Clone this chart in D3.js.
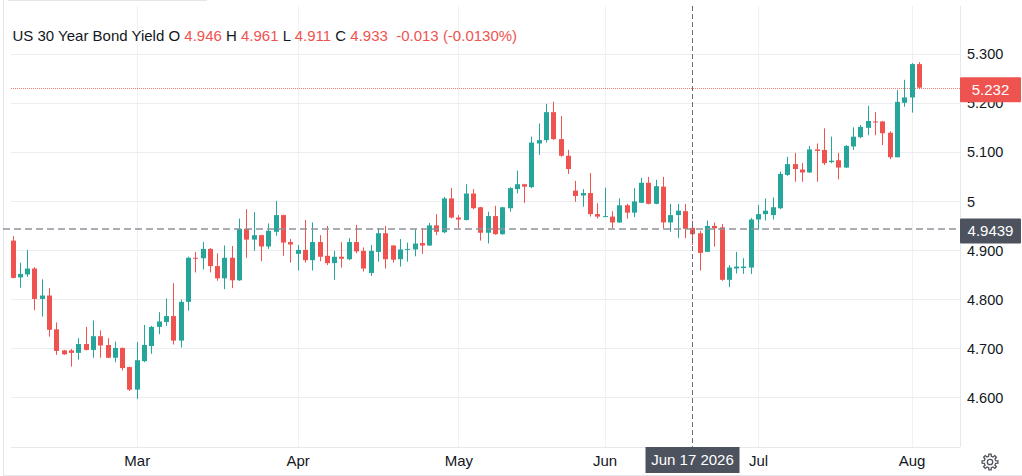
<!DOCTYPE html>
<html>
<head>
<meta charset="utf-8">
<script src="https://cdn.jsdelivr.net/npm/d3@7"></script>
<style>
  body { margin: 0; background: #fff; }
  svg { display: block; font-family: Helvetica, Arial, "Liberation Sans", sans-serif; }
</style>
</head>
<body>
<script>
// daily candles, Feb -> Aug 2026 (one entry per trading day)
var opens = [4.920,4.845,4.851,4.863,4.801,4.808,4.739,4.696,4.696,4.691,4.709,4.697,4.725,4.707,4.681,4.701,4.662,4.616,4.674,4.705,
  4.744,4.754,4.766,4.716,4.795,4.885,4.884,4.903,4.868,4.843,4.885,4.839,4.944,4.922,4.931,4.908,4.938,4.972,4.917,4.893,
  4.901,4.880,4.917,4.889,4.874,4.887,4.882,4.917,4.899,4.854,4.897,4.935,4.910,4.882,4.901,4.902,4.915,4.910,4.951,4.937,
  5.006,4.967,4.962,5.016,4.988,4.936,4.970,4.933,4.986,5.025,5.035,5.029,5.118,5.125,5.182,5.127,5.093,5.022,5.012,5.017,
  4.974,4.969,4.969,4.957,4.992,4.977,4.997,5.038,4.995,5.030,4.957,4.972,4.980,4.946,4.935,4.897,4.950,4.947,4.840,4.863,
  4.864,4.865,4.963,4.974,4.972,4.986,5.054,5.076,5.065,5.059,5.106,5.105,5.080,5.084,5.069,5.112,5.131,5.150,5.163,5.163,
  5.140,5.090,5.201,5.212,5.280];
var highs = [4.929,4.875,4.901,4.866,4.841,4.823,4.753,4.697,4.699,4.721,4.744,4.757,4.737,4.721,4.714,4.702,4.663,4.713,4.748,4.746,
  4.774,4.802,4.833,4.800,4.887,4.897,4.917,4.905,4.894,4.910,4.909,4.965,4.984,4.978,4.932,4.955,5.001,4.973,4.923,4.911,
  4.962,4.957,4.931,4.950,4.899,4.917,4.925,4.952,4.906,4.911,4.945,4.950,4.911,4.923,4.916,4.943,4.945,4.956,4.974,5.009,
  5.027,4.972,5.035,5.025,4.989,4.979,4.991,4.989,5.029,5.063,5.036,5.132,5.159,5.199,5.203,5.174,5.105,5.042,5.025,5.058,
  4.996,5.028,4.980,5.006,4.995,5.027,5.048,5.050,5.044,5.050,4.995,4.995,4.995,4.961,4.940,4.961,4.957,4.954,4.870,4.897,
  4.884,4.966,4.993,5.006,5.008,5.061,5.091,5.099,5.078,5.113,5.118,5.149,5.132,5.099,5.115,5.151,5.156,5.195,5.182,5.164,
  5.143,5.227,5.248,5.282,5.284];
var lows = [4.843,4.824,4.846,4.778,4.765,4.724,4.687,4.687,4.663,4.677,4.696,4.681,4.681,4.680,4.672,4.655,4.613,4.597,4.672,4.689,
  4.729,4.746,4.708,4.702,4.777,4.855,4.861,4.855,4.838,4.821,4.823,4.838,4.885,4.899,4.878,4.903,4.930,4.889,4.875,4.859,
  4.875,4.859,4.878,4.870,4.840,4.865,4.880,4.894,4.857,4.848,4.877,4.863,4.875,4.867,4.877,4.888,4.893,4.909,4.931,4.935,
  4.965,4.946,4.961,4.984,4.920,4.914,4.932,4.932,4.979,5.016,4.997,5.027,5.095,5.120,5.125,5.091,5.056,4.999,4.989,4.969,
  4.965,4.968,4.945,4.956,4.965,4.968,4.997,4.994,4.994,4.945,4.938,4.925,4.925,4.911,4.859,4.897,4.908,4.838,4.825,4.853,
  4.852,4.852,4.942,4.961,4.963,4.984,5.052,5.040,5.040,5.058,5.040,5.074,5.078,5.045,5.068,5.105,5.129,5.135,5.135,5.115,
  5.086,5.090,5.193,5.181,5.229];
var closes = [4.844,4.852,4.863,4.801,4.808,4.738,4.695,4.688,4.691,4.709,4.697,4.725,4.706,4.681,4.701,4.660,4.616,4.676,4.707,4.744,
  4.755,4.766,4.716,4.795,4.885,4.884,4.903,4.868,4.843,4.885,4.839,4.944,4.922,4.931,4.908,4.940,4.972,4.916,4.912,4.901,
  4.880,4.917,4.887,4.874,4.887,4.883,4.917,4.898,4.863,4.899,4.935,4.882,4.881,4.902,4.903,4.914,4.910,4.951,4.938,5.006,
  4.967,4.963,5.016,4.986,4.936,4.970,4.933,4.988,5.027,5.035,5.030,5.120,5.125,5.182,5.127,5.093,5.066,5.011,5.017,4.974,
  4.969,4.970,4.957,4.992,4.977,5.000,5.038,4.995,5.031,4.957,4.972,4.981,4.944,4.933,4.895,4.950,4.945,4.840,4.865,4.867,
  4.867,4.963,4.974,4.981,4.988,5.056,5.076,5.066,5.059,5.106,5.103,5.078,5.083,5.069,5.113,5.132,5.152,5.164,5.161,5.139,
  5.090,5.203,5.212,5.280,5.232];

// month labels and the bar index where each month starts
var months = ["Mar", "Apr", "May", "Jun", "Jul", "Aug"];
var monthIdx = [17, 39, 61, 81, 102, 123];

// price axis
var yTicks = [4.6, 4.7, 4.8, 4.9, 5.0, 5.1, 5.2, 5.3];
var yLabels = ["4.600", "4.700", "4.800", "4.900", "5", "5.100", "5.200", "5.300"];

// crosshair + last price
var lastPrice = 5.232;
var crossIdx = 93;
var crossPrice = 4.9439;
var crossDate = "Jun 17 2026";

var width = 1022;
var height = 476;
var plotLeft = 11;
var plotRight = 960;
var plotTop = 6;
var plotBottom = 447;

var green = "#26a69a";
var red = "#ef5350";
var dark = "#131722";
var font = "Helvetica, Arial, 'Liberation Sans', sans-serif";

var svg = d3.select("body").append("svg")
  .attr("width", width)
  .attr("height", height);

// scales
var x = d3.scaleLinear().domain([0, opens.length - 1]).range([12.5, 918.9]);
var y = d3.scaleLinear().domain([4.5, 5.3]).range([446.5, 54.3]);

// outer frame
svg.append("line").attr("x1", 3.5).attr("x2", 3.5).attr("y1", 0).attr("y2", 475)
  .attr("stroke", "#e3e5ea");
svg.append("line").attr("x1", 3).attr("x2", width).attr("y1", 475.5).attr("y2", 475.5)
  .attr("stroke", "#e3e5ea");
svg.append("line").attr("x1", 8).attr("x2", 207).attr("y1", 0.5).attr("y2", 0.5)
  .attr("stroke", "#e3e5ea");

// vertical grid at month starts
svg.selectAll(".vgrid").data(monthIdx).enter().append("line")
  .attr("class", "vgrid")
  .attr("x1", function(d) { return Math.round(x(d)) + 0.5; })
  .attr("x2", function(d) { return Math.round(x(d)) + 0.5; })
  .attr("y1", plotTop).attr("y2", plotBottom)
  .attr("stroke", "#eef1f6");

// horizontal grid (incl. bottom 4.5 line)
svg.selectAll(".hgrid").data([4.5].concat(yTicks)).enter().append("line")
  .attr("class", "hgrid")
  .attr("x1", plotLeft).attr("x2", plotRight)
  .attr("y1", function(d) { return Math.round(y(d)) + 0.5; })
  .attr("y2", function(d) { return Math.round(y(d)) + 0.5; })
  .attr("stroke", function(d) { return d === 4.5 ? "#e6e8ec" : "#ecedf0"; });

// right axis border
svg.append("line").attr("x1", plotRight + 0.5).attr("x2", plotRight + 0.5)
  .attr("y1", plotTop).attr("y2", plotBottom)
  .attr("stroke", "#e6e8ec");

// y axis labels
var yAxis = d3.axisRight(y)
  .tickValues(yTicks)
  .tickFormat(function(d, i) { return yLabels[i]; })
  .tickSize(0)
  .tickPadding(7);
var gy = svg.append("g")
  .attr("transform", "translate(" + plotRight + ",0)")
  .call(yAxis);
gy.select(".domain").remove();
gy.selectAll("text").style("font-size", "14.5px").attr("fill", dark)
  .style("font-family", font);

// x axis labels
var xAxis = d3.axisBottom(x)
  .tickValues(monthIdx)
  .tickFormat(function(d, i) { return months[i]; })
  .tickSize(0)
  .tickPadding(8);
var gx = svg.append("g")
  .attr("transform", "translate(0," + plotBottom + ")")
  .call(xAxis);
gx.select(".domain").remove();
gx.selectAll("text").style("font-size", "15px").attr("fill", dark)
  .style("font-family", font);

// last price dotted line
svg.append("line")
  .attr("x1", plotLeft).attr("x2", plotRight)
  .attr("y1", Math.round(y(lastPrice)) + 0.5).attr("y2", Math.round(y(lastPrice)) + 0.5)
  .attr("stroke", red).attr("stroke-opacity", 0.75)
  .attr("shape-rendering", "crispEdges")
  .attr("stroke-dasharray", "1,1");

// candles
var candles = svg.append("g").selectAll("g").data(opens).enter().append("g");
candles.append("line")
  .attr("x1", function(d, i) { return Math.round(x(i)) + 0.5; })
  .attr("x2", function(d, i) { return Math.round(x(i)) + 0.5; })
  .attr("y1", function(d, i) { return y(highs[i]); })
  .attr("y2", function(d, i) { return y(lows[i]); })
  .attr("stroke", function(d, i) { return closes[i] >= opens[i] ? green : red; })
  .attr("stroke-width", 1);
candles.append("rect")
  .attr("x", function(d, i) { return Math.round(x(i)) - 2; })
  .attr("width", 5)
  .attr("y", function(d, i) { return y(Math.max(opens[i], closes[i])); })
  .attr("height", function(d, i) {
    return Math.max(1, Math.abs(y(opens[i]) - y(closes[i])));
  })
  .attr("fill", function(d, i) { return closes[i] >= opens[i] ? green : red; });

// crosshair
var cx = Math.round(x(crossIdx)) + 0.5;
svg.append("line")
  .attr("x1", cx).attr("x2", cx).attr("y1", plotTop).attr("y2", plotBottom)
  .attr("stroke", "#6a6d78").attr("stroke-dasharray", "5,3");
svg.append("line")
  .attr("x1", plotLeft - 8).attr("x2", plotRight)
  .attr("y1", y(crossPrice)).attr("y2", y(crossPrice))
  .attr("stroke", "#8f9299").attr("stroke-width", 1.5).attr("stroke-dasharray", "7,4");

// price badges on the right axis
function badge(val, txt, fill) {
  var cy = y(val) + 2;
  svg.append("rect")
    .attr("x", plotRight).attr("y", cy - 12.5)
    .attr("width", 61).attr("height", 25)
    .attr("rx", 1)
    .attr("fill", fill);
  svg.append("text")
    .attr("x", plotRight + 30.5).attr("y", cy)
    .attr("dy", "0.35em")
    .attr("text-anchor", "middle")
    .attr("fill", "#fff")
    .style("font-size", "15px")
    .text(txt);
}
badge(lastPrice, lastPrice.toFixed(3), red);
badge(crossPrice, crossPrice.toFixed(4), "#4c525e");

// date badge at bottom
svg.append("rect")
  .attr("x", cx - 47).attr("y", plotBottom)
  .attr("width", 94).attr("height", 26)
  .attr("fill", "#4c525e");
svg.append("text")
  .attr("x", cx).attr("y", plotBottom + 13)
  .attr("dy", "0.35em")
  .attr("text-anchor", "middle")
  .attr("fill", "#fff")
  .style("font-size", "15px")
  .text(crossDate);

// legend (values of the hovered candle)
var legendParts = [
  ["US 30 Year Bond Yield O ", dark],
  [opens[crossIdx].toFixed(3), red],
  [" H ", dark],
  [highs[crossIdx].toFixed(3), red],
  [" L ", dark],
  [lows[crossIdx].toFixed(3), red],
  [" C ", dark],
  [closes[crossIdx].toFixed(3), red],
  ["  -0.013 (-0.0130%)", red]
];
var legend = svg.append("text")
  .attr("x", 12.5).attr("y", 36)
  .attr("dy", "0.35em")
  .style("font-size", "15px")
  .style("white-space", "pre");
legend.selectAll("tspan").data(legendParts).enter().append("tspan")
  .attr("fill", function(d) { return d[1]; })
  .text(function(d) { return d[0]; });

// settings gear, bottom right
var teeth = 8;
var gearPts = [];
for (var k = 0; k < teeth; k++) {
  var a0 = k / teeth * 2 * Math.PI;
  var step = 2 * Math.PI / teeth;
  gearPts.push([a0 - step * 0.18, 8]);
  gearPts.push([a0 + step * 0.18, 8]);
  gearPts.push([a0 + step * 0.3, 5.8]);
  gearPts.push([a0 + step * 0.7, 5.8]);
}
var gearLine = d3.lineRadial().curve(d3.curveLinearClosed);
var gearG = svg.append("g").attr("transform", "translate(990,462)");
gearG.append("path")
  .attr("d", gearLine(gearPts))
  .attr("fill", "none").attr("stroke", "#50535e").attr("stroke-width", 1.3);
gearG.append("circle")
  .attr("r", 2.7)
  .attr("fill", "none").attr("stroke", "#50535e").attr("stroke-width", 1.3);
</script>
</body>
</html>
